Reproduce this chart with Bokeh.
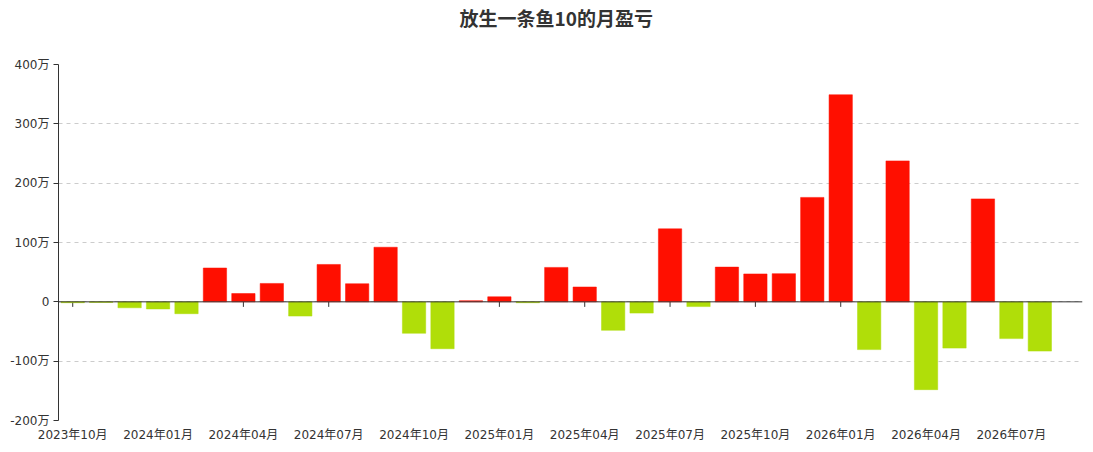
from bokeh.plotting import figure
from bokeh.models import FixedTicker, Span, Range1d, ColumnDataSource, LinearAxis
from bokeh.embed import file_html
from bokeh.resources import INLINE

# 月份（2023年10月 - 2026年09月）
months = ['2023年10月', '2023年11月', '2023年12月', '2024年01月', '2024年02月', '2024年03月',
          '2024年04月', '2024年05月', '2024年06月', '2024年07月', '2024年08月', '2024年09月',
          '2024年10月', '2024年11月', '2024年12月', '2025年01月', '2025年02月', '2025年03月',
          '2025年04月', '2025年05月', '2025年06月', '2025年07月', '2025年08月', '2025年09月',
          '2025年10月', '2025年11月', '2025年12月', '2026年01月', '2026年02月', '2026年03月',
          '2026年04月', '2026年05月', '2026年06月', '2026年07月', '2026年08月', '2026年09月']
# 月盈亏（万元），最后一个月没有数据
profit = [-1.5, -1, -10, -12, -20, 57, 14, 31, -24, 63, 30.5, 92,
          -53, -79, 2, 8.5, -1.5, 58, 25, -48, -19, 123, -8, 58.5,
          47, 47.5, 176, 349, -80.5, 237.5, -148, -78, 173.5, -62, -83]
y_ticks = [-200, -100, 0, 100, 200, 300, 400]
label_step = 3
title = '放生一条鱼10的月盈亏'

up_color = '#FF0F00'
down_color = '#B0DE09'
font = 'DejaVu Sans, Noto Sans CJK SC'

src = ColumnDataSource(dict(
    x=list(range(len(profit))),
    top=profit,
    color=[up_color if v >= 0 else down_color for v in profit],
))

p = figure(width=1085, height=444, output_backend='svg', toolbar_location=None,
           x_range=Range1d(-0.5, len(months) - 0.5), y_range=Range1d(-200, 400),
           min_border_left=58, min_border_right=3, min_border_top=64, min_border_bottom=24)
p.outline_line_color = None
p.background_fill_color = 'white'

# 标题：用上方坐标轴的单个标签来放
title_pos = len(months) // 2 - 1
title_axis = LinearAxis(ticker=FixedTicker(ticks=[title_pos]),
                        major_label_overrides={title_pos: title})
title_axis.axis_line_color = None
title_axis.major_tick_line_color = None
title_axis.major_tick_out = 0
title_axis.major_tick_in = 0
title_axis.minor_tick_line_color = None
title_axis.minor_tick_out = 0
title_axis.major_label_text_font = 'Noto Sans CJK SC'
title_axis.major_label_text_font_size = '19px'
title_axis.major_label_text_font_style = 'bold'
title_axis.major_label_text_color = '#333333'
title_axis.major_label_standoff = 34
p.add_layout(title_axis, 'above')

# 网格
p.xgrid.grid_line_color = None
p.ygrid.grid_line_color = '#cccccc'
p.ygrid.grid_line_dash = '4 4'

# y轴
p.yaxis.ticker = FixedTicker(ticks=y_ticks)
p.yaxis.major_label_overrides = {v: ('0' if v == 0 else f'{v}万') for v in y_ticks}
p.yaxis.axis_line_color = '#333333'
p.yaxis.major_tick_line_color = '#333333'
p.yaxis.major_tick_out = 5
p.yaxis.major_tick_in = 0
p.yaxis.minor_tick_line_color = None
p.yaxis.major_label_text_font = font
p.yaxis.major_label_text_font_size = '12px'
p.yaxis.major_label_text_color = '#333333'
p.yaxis.major_label_standoff = 4

# x轴：只显示每3个月的标签
tick_idx = list(range(0, len(months), label_step))
xaxis = p.below[0]
xaxis.ticker = FixedTicker(ticks=tick_idx)
xaxis.major_label_overrides = {i: months[i] for i in tick_idx}
xaxis.axis_line_color = None
xaxis.major_tick_line_color = None
xaxis.major_tick_out = 0
xaxis.major_tick_in = 0
xaxis.minor_tick_line_color = None
xaxis.minor_tick_out = 0
xaxis.major_label_text_font = font
xaxis.major_label_text_font_size = '12px'
xaxis.major_label_text_color = '#333333'
xaxis.major_label_standoff = 7

# 零轴上的刻度线
p.segment(x0=tick_idx, y0=[0] * len(tick_idx), x1=tick_idx, y1=[-8.5] * len(tick_idx),
          line_color='#333333', line_width=1)

p.vbar(x='x', top='top', bottom=0, width=0.82, source=src,
       fill_color='color', line_color='color', line_alpha=0.5, line_width=1)

p.add_layout(Span(location=0, dimension='width', line_color='#333333', line_width=1))

open('out.html', 'w').write(file_html(p, INLINE))
